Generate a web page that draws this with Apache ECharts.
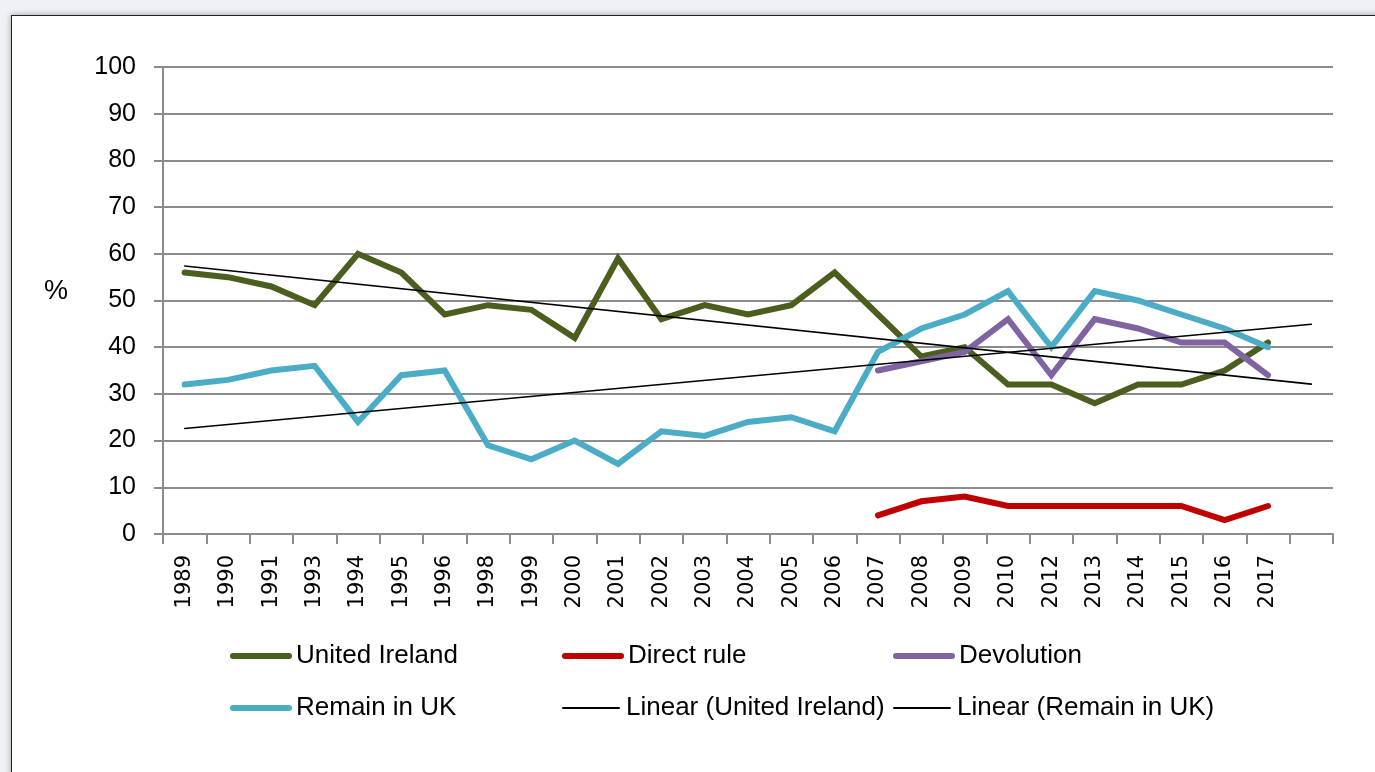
<!doctype html>
<html><head><meta charset="utf-8" />
<style>
  html,body{margin:0;padding:0;width:1375px;height:772px;overflow:hidden;background:#eef2f6}
  #frame{position:absolute;left:11px;top:15px;width:1400px;height:800px;background:#fff;border:1px solid #222;box-shadow:0 0 6px rgba(0,0,0,0.35)}
  #app{position:absolute;left:0;top:0;width:1375px;height:772px}
</style>
</head><body><div id="frame"></div><div id="app"></div>
<script src="https://cdn.jsdelivr.net/npm/echarts@6/dist/echarts.min.js"></script>
<script>
// categories (last slot is empty: trend lines are forecast one period)
const years = ['1989','1990','1991','1993','1994','1995','1996','1998','1999','2000','2001','2002','2003','2004','2005','2006','2007','2008','2009','2010','2012','2013','2014','2015','2016','2017',''];
const unitedIreland = [56,55,53,49,60,56,47,49,48,42,59,46,49,47,49,56,47,38,40,32,32,28,32,32,35,41];
const remainInUK = [32,33,35,36,24,34,35,19,16,20,15,22,21,24,25,22,39,44,47,52,40,52,50,47,44,40];
const directRule = [null,null,null,null,null,null,null,null,null,null,null,null,null,null,null,null,4,7,8,6,6,6,6,6,3,6];
const devolution = [null,null,null,null,null,null,null,null,null,null,null,null,null,null,null,null,35,37,39,46,34,46,44,41,41,34];
// trend line end points [category index, value]
const trendUnited = [[0,57.4],[26,32.1]];
const trendRemain = [[0,22.6],[26,44.9]];
const yTicks = {min:0, max:100, step:10};

(function(){
  const chart = echarts.init(document.getElementById('app'), null, {renderer:'canvas'});
  const txt = 'Liberation Sans';
  function line(name, data, color, width){
    return { name:name, type:'line', data:data, symbol:'none', smooth:false, connectNulls:false,
      lineStyle:{ color:color, width:width, cap:'round', join:'miter' }, itemStyle:{ color:color }, z: width>2?3:4, animation:false };
  }
  function leg(name, left, top, w){
    return { data:[name], left:left, top:top, padding:0, itemWidth:56, itemHeight:14, itemGap:0,
      itemStyle:{ opacity:0 }, lineStyle:{ width:w, cap:'round' },
      textStyle:{ color:'#000', fontSize:26, fontFamily:txt, padding:[0,0,0,2] }, selectedMode:false };
  }
  const option = {
    backgroundColor:'transparent',
    animation:false,
    grid:{ left:163, right:42, top:67, bottom:238 },
    graphic:[{ type:'text', left:44, top:278, style:{ text:'%', fontSize:27, fontFamily:txt, fill:'#000' } }],
    legend:[
      leg('United Ireland',230,643,6), leg('Direct rule',562,643,6), leg('Devolution',893,643,6),
      leg('Remain in UK',230,695,6), leg('Linear (United Ireland)',562,695,2), leg('Linear (Remain in UK)',893,695,2)
    ],
    xAxis:{ type:'category', data:years, boundaryGap:true,
      axisLine:{ lineStyle:{ color:'#8c8c8c', width:2 } },
      axisTick:{ show:true, interval:0, length:10, lineStyle:{ color:'#8c8c8c', width:2 } },
      axisLabel:{ interval:0, rotate:90, margin:21, color:'#000', fontSize:21, fontFamily:'DejaVu Sans' },
      splitLine:{ show:false } },
    yAxis:{ type:'value', min:yTicks.min, max:yTicks.max, interval:yTicks.step,
      axisLine:{ show:true, lineStyle:{ color:'#8c8c8c', width:2 } },
      axisTick:{ show:true, length:9, lineStyle:{ color:'#8c8c8c', width:2 } },
      axisLabel:{ color:'#000', fontSize:25, fontFamily:txt, margin:27 },
      splitLine:{ lineStyle:{ color:'#8c8c8c', width:2 } } },
    series:[
      line('United Ireland', unitedIreland, '#4a5e1e', 6),
      line('Direct rule', directRule, '#c00000', 6),
      line('Devolution', devolution, '#8064a2', 6),
      line('Remain in UK', remainInUK, '#4bacc6', 6),
      line('Linear (United Ireland)', trendUnited, '#000000', 1.6),
      line('Linear (Remain in UK)', trendRemain, '#000000', 1.6)
    ]
  };
  chart.setOption(option);
})();
</script></body></html>
